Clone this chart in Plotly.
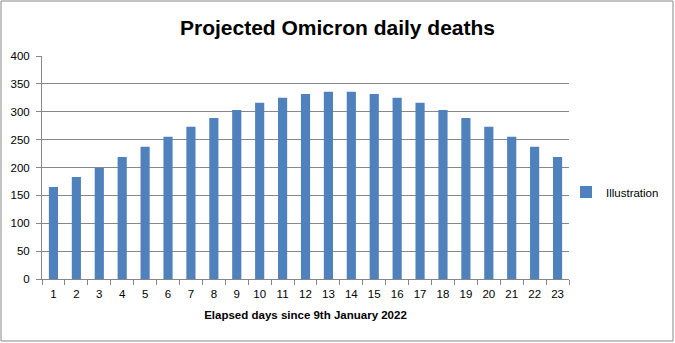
import plotly.graph_objects as go

days = [str(i) for i in range(1, 24)]
deaths = [165, 183, 199, 219, 237, 255, 273, 289, 303, 316, 325, 332, 336,
          336, 332, 325, 316, 303, 289, 273, 255, 237, 219]
series_name = "Illustration"
title_text = "Projected Omicron daily deaths"
x_title = "Elapsed days since 9th January 2022"

W, H = 675, 343
ml, mr, mt, mb = 42, 106, 56, 64
pw, ph = W - ml - mr, H - mt - mb

fig = go.Figure(go.Bar(x=days, y=deaths, name=series_name, marker_color="#4F81BD",
                       marker_line_width=0))

grid = "#878787"
font = "Liberation Sans, Arial, sans-serif"
fig.update_layout(
    width=W, height=H,
    margin=dict(l=ml, r=mr, t=mt, b=mb, autoexpand=False),
    paper_bgcolor="white", plot_bgcolor="white",
    font=dict(family=font, size=11, color="black"),
    bargap=0.6,
    showlegend=True,
    title=dict(text="<b>" + title_text + "</b>", x=0.5, xanchor="center",
               y=1 - 28 / H, yanchor="middle", font=dict(size=21, family=font)),
    legend=dict(x=(566 - ml) / pw, y=(279 - 192) / ph, xanchor="left", yanchor="middle",
                font=dict(size=11.5), bgcolor="rgba(0,0,0,0)", itemwidth=30),
    xaxis=dict(type="category", showline=True, linecolor=grid, ticks="outside",
               tickson="boundaries", ticklen=5, tickcolor=grid, showgrid=False,
               title=dict(text="<b>" + x_title + "</b>", font=dict(size=11.5), standoff=12),
               tickfont=dict(size=11.5), ticklabelstandoff=4),
    yaxis=dict(range=[0, 400], dtick=50, showline=True, linecolor=grid, ticks="outside",
               ticklen=5, tickcolor=grid, showgrid=True, gridcolor=grid, gridwidth=1,
               zeroline=False, tickfont=dict(size=11.5), ticklabelstandoff=4),
)
fig.add_shape(type="rect", xref="paper", yref="paper",
              x0=(1 - ml) / pw, x1=(W - 2 - ml) / pw,
              y0=(279 - (H - 2)) / ph, y1=(279 - 1) / ph,
              line=dict(color="#878787", width=1))
fig.write_html("out.html")
